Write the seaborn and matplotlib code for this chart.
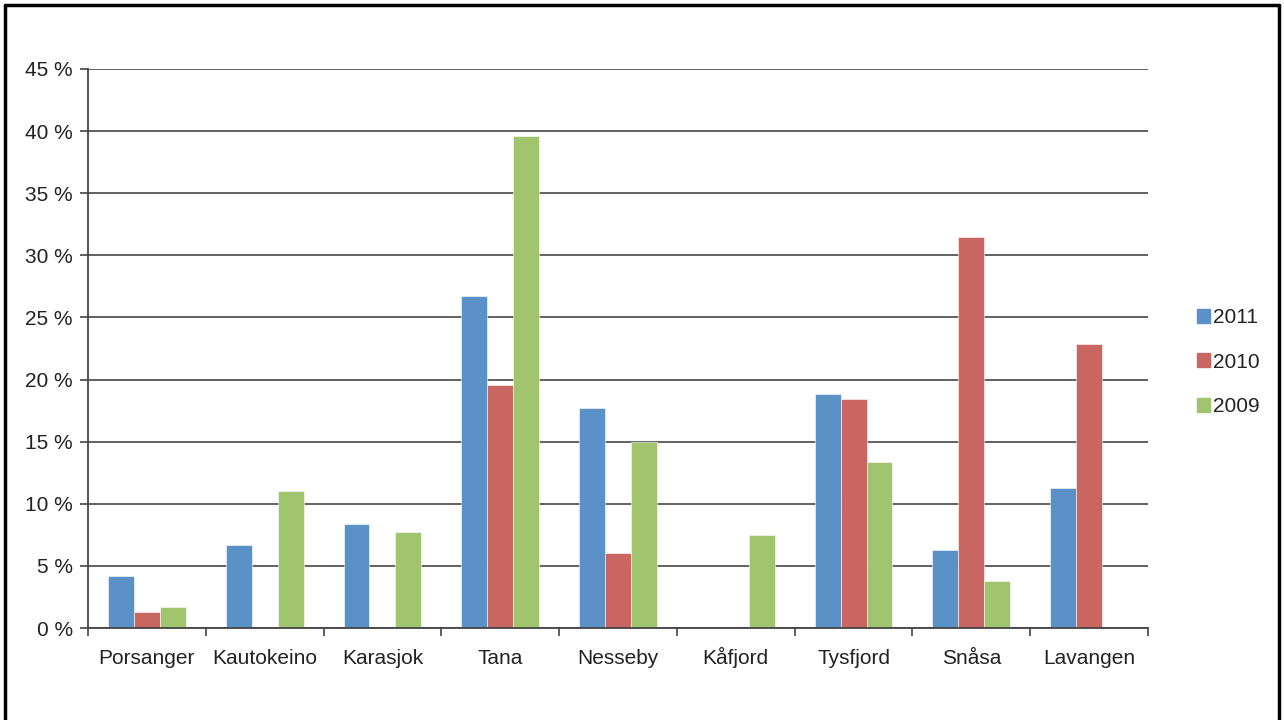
import matplotlib.pyplot as plt
import seaborn as sns
import pandas as pd
import numpy as np
from matplotlib.lines import Line2D
from matplotlib.ticker import FuncFormatter, MultipleLocator

# Data (percent)
kommuner = ["Porsanger", "Kautokeino", "Karasjok", "Tana", "Nesseby",
            "Kåfjord", "Tysfjord", "Snåsa", "Lavangen"]
years = ["2011", "2010", "2009"]
v2011 = [4.2, 6.7, 8.4, 26.7, 17.7, np.nan, 18.8, 6.3, 11.3]
v2010 = [1.3, np.nan, np.nan, 19.6, 6.0, np.nan, 18.4, 31.5, 22.9]
v2009 = [1.7, 11.0, 7.7, 39.6, 15.0, 7.5, 13.4, 3.8, np.nan]
colors = ["#5A91C6", "#CA6662", "#A1C46F"]

df = pd.DataFrame({"Kommune": kommuner * 3,
                   "Year": [y for y in years for _ in kommuner],
                   "Value": v2011 + v2010 + v2009})

sns.set_style("white")
plt.rcParams["font.family"] = ["Liberation Sans", "DejaVu Sans"]

fig = plt.figure(figsize=(12.84, 7.2), dpi=100)
ax = fig.add_axes([88 / 1284, 1 - 628 / 720, (1148 - 88) / 1284, (628 - 69) / 720])

sns.barplot(data=df, x="Kommune", y="Value", hue="Year", order=kommuner,
            hue_order=years, palette=colors, width=0.66, gap=0,
            saturation=1, edgecolor="white", linewidth=0.4, ax=ax, legend=False)

ax.set_xlim(-0.5, len(kommuner) - 0.5)
ax.set_ylim(0, 45)
ax.yaxis.set_major_locator(MultipleLocator(5))
ax.yaxis.set_major_formatter(FuncFormatter(lambda v, p: f"{v:.0f} %"))
ax.grid(axis="y", color="#555555", linewidth=1.3)
ax.set_axisbelow(True)
ax.set_xlabel("")
ax.set_ylabel("")

for s in ["top", "right"]:
    ax.spines[s].set_visible(False)
for s in ["left", "bottom"]:
    ax.spines[s].set_color("#444444")
    ax.spines[s].set_linewidth(1.3)

ax.tick_params(axis="y", length=6, width=1.2, color="#444444", labelsize=15,
               labelcolor="#222222", pad=5, left=True)
ax.tick_params(axis="x", which="major", length=0, labelsize=15,
               labelcolor="#222222", pad=26)
for lbl in ax.get_xticklabels():
    lbl.set_verticalalignment("baseline")
ax.set_xticks(np.arange(-0.5, len(kommuner)), minor=True)
ax.tick_params(axis="x", which="minor", length=6, width=1.2, color="#444444",
               bottom=True)

handles = [plt.Rectangle((0, 0), 1, 1, color=c) for c in colors]
fig.legend(handles, years, loc="center left", bbox_to_anchor=(1178 / 1284, 1 - 362 / 720),
           frameon=False, fontsize=15, handlelength=0.65, handleheight=0.65,
           handletextpad=0.12, labelspacing=1.22, labelcolor="#222222")

# outer chart frame
for xs, ys in [([5 / 1284, 5 / 1284], [0, 1 - 5 / 720]),
               ([5 / 1284, 1279 / 1284], [1 - 5 / 720, 1 - 5 / 720]),
               ([1279 / 1284, 1279 / 1284], [0, 1 - 5 / 720])]:
    fig.add_artist(Line2D(xs, ys, color="black", linewidth=2.5,
                          transform=fig.transFigure))

fig.savefig("out.png", dpi=100)
